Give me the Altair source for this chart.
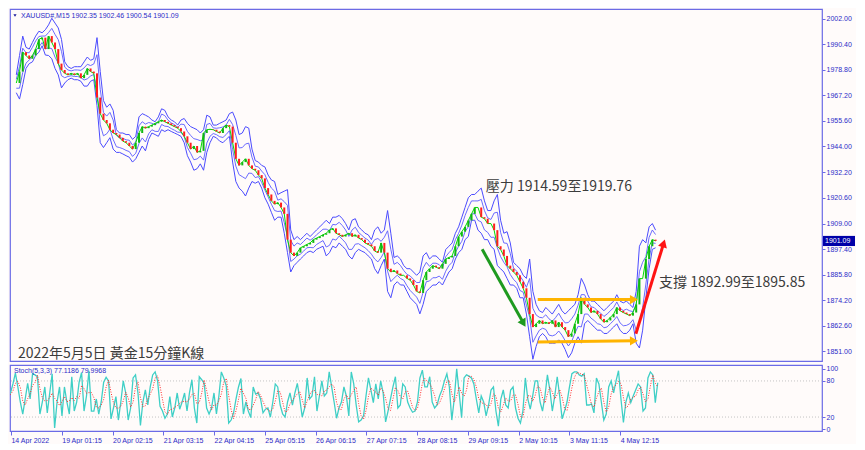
import math
import altair as alt
import pandas as pd

# ---------------- data ----------------
close = [
1972.8,1978.0,1986.8,1985.3,1983.8,1985.3,1988.2,1992.6,1993.4,1988.2,
1994.1,1991.2,1988.2,1981.6,1978.7,1977.2,1976.5,1977.2,1976.5,1977.2,
1975.0,1976.5,1979.4,1978.0,1977.2,1966.2,1958.9,1956.0,1954.5,1951.6,
1950.1,1949.4,1947.9,1946.4,1945.7,1944.2,1942.8,1945.7,1950.1,1953.0,
1952.3,1953.0,1953.7,1954.5,1955.2,1956.0,1955.2,1954.5,1953.7,1953.0,
1952.3,1950.8,1948.6,1945.7,1942.8,1944.2,1941.3,1942.0,1950.1,1951.6,
1951.8,1951.6,1950.8,1950.1,1952.3,1953.7,1953.0,1945.7,1938.4,1935.4,
1936.9,1938.4,1935.4,1933.9,1933.2,1931.0,1929.5,1925.1,1922.2,1919.3,
1917.8,1918.5,1916.3,1913.4,1901.7,1895.8,1894.3,1895.8,1898.0,1898.7,
1899.5,1900.2,1901.7,1902.4,1903.1,1903.9,1904.6,1906.1,1906.8,1904.6,
1903.9,1903.1,1903.9,1904.6,1903.1,1903.9,1902.4,1901.7,1900.2,1899.5,
1898.7,1896.5,1895.8,1900.2,1895.8,1888.5,1887.0,1887.7,1886.3,1885.5,
1885.5,1884.1,1883.3,1881.1,1878.2,1877.5,1883.3,1887.0,1888.5,1889.9,
1889.2,1888.5,1890.7,1892.9,1893.6,1894.3,1898.7,1903.1,1905.3,1907.5,
1910.4,1913.4,1916.3,1916.3,1911.9,1911.2,1909.0,1909.0,1906.0,1898.7,
1897.2,1894.3,1889.9,1888.5,1887.0,1885.5,1882.6,1879.6,1875.3,1867.9,
1862.0,1863.5,1865.0,1863.5,1864.2,1863.5,1865.0,1862.0,1864.2,1862.0,
1860.6,1857.6,1859.1,1863.5,1867.9,1875.3,1872.3,1870.9,1868.6,1869.4,
1867.9,1865.7,1864.2,1865.0,1866.4,1867.9,1870.9,1869.4,1868.6,1867.9,
1867.2,1868.6,1872.3,1884.0,1884.0,1892.9,1898.7,1901.7,1901.1]

upper = [
1976.5,1985.3,1994.1,1989.0,1988.2,1991.2,1994.1,1996.3,1995.6,1997.0,
1999.2,2002.2,2000.0,1997.8,1992.6,1982.4,1980.2,1979.4,1980.2,1980.2,
1980.2,1982.4,1984.6,1983.1,1983.8,1993.4,1978.0,1964.8,1961.8,1963.3,
1960.4,1951.6,1950.1,1950.1,1949.4,1949.4,1947.2,1948.6,1957.4,1958.9,
1958.2,1957.4,1956.0,1955.2,1957.4,1961.1,1960.4,1957.4,1956.0,1955.2,
1953.7,1956.0,1956.7,1954.5,1953.0,1952.3,1951.6,1950.1,1951.6,1958.2,
1957.4,1953.7,1953.7,1954.5,1955.2,1956.0,1958.9,1959.6,1956.0,1949.4,
1950.1,1953.0,1952.3,1942.8,1937.6,1936.9,1935.4,1934.7,1931.0,1928.8,
1928.1,1922.2,1923.0,1923.7,1924.4,1906.1,1901.7,1903.1,1901.7,1903.1,
1904.6,1903.1,1904.6,1906.1,1907.5,1909.0,1910.5,1909.0,1911.9,1911.9,
1912.7,1911.2,1909.0,1906.1,1910.5,1911.2,1907.5,1906.1,1904.6,1903.9,
1901.7,1906.1,1907.5,1904.6,1906.1,1914.9,1904.6,1893.6,1894.3,1892.9,
1889.9,1888.5,1888.5,1887.0,1885.5,1887.0,1894.3,1895.8,1892.9,1894.3,
1894.3,1892.9,1891.4,1897.2,1898.7,1900.2,1904.6,1907.5,1911.9,1916.3,
1920.7,1922.2,1922.2,1923.7,1925.1,1919.3,1914.9,1914.9,1919.3,1922.2,
1910.5,1904.6,1905.3,1900.2,1891.4,1889.9,1888.5,1885.5,1884.1,1892.9,
1878.2,1872.3,1869.4,1868.6,1870.9,1869.4,1867.9,1870.1,1872.3,1869.4,
1867.9,1869.4,1870.9,1872.3,1876.7,1884.1,1881.1,1876.7,1873.8,1873.8,
1872.3,1870.9,1869.4,1870.9,1872.3,1873.8,1876.7,1873.8,1873.0,1873.8,
1872.3,1870.9,1878.2,1898.7,1901.7,1900.2,1907.5,1909.0,1906.0]

lower = [
1968.4,1965.5,1972.1,1979.4,1981.6,1982.4,1985.3,1986.8,1989.7,1985.5,
1985.3,1983.8,1979.4,1976.5,1970.6,1972.8,1974.3,1975.0,1974.3,1974.3,
1973.6,1971.4,1971.4,1973.6,1974.3,1962.5,1945.7,1943.5,1945.7,1948.0,
1942.8,1941.3,1941.3,1940.6,1939.8,1939.1,1936.9,1938.4,1941.3,1944.2,
1942.0,1947.2,1950.1,1949.4,1948.6,1951.6,1950.8,1951.6,1950.8,1950.1,
1949.4,1948.6,1945.7,1939.8,1936.9,1933.2,1933.9,1936.1,1933.2,1941.3,
1945.7,1948.6,1947.9,1946.4,1945.7,1947.2,1948.6,1936.9,1928.1,1925.1,
1923.7,1921.5,1925.1,1928.1,1927.3,1928.1,1925.1,1920.7,1917.8,1914.1,
1910.5,1911.9,1911.9,1904.6,1895.8,1887.0,1889.9,1891.4,1892.9,1894.3,
1895.8,1896.5,1895.8,1897.3,1898.0,1898.7,1894.3,1895.8,1898.7,1898.0,
1900.2,1898.7,1897.3,1894.3,1892.9,1895.8,1897.3,1896.5,1895.8,1894.3,
1892.9,1888.5,1886.3,1889.9,1892.9,1878.2,1875.3,1881.1,1882.6,1881.1,
1881.1,1878.2,1875.3,1873.8,1872.3,1868.0,1872.3,1878.2,1879.6,1881.1,
1881.1,1882.6,1881.1,1884.1,1887.0,1888.5,1892.9,1895.8,1897.3,1901.7,
1903.1,1910.5,1910.5,1906.0,1904.6,1901.7,1901.7,1898.7,1897.3,1889.9,
1888.5,1887.0,1884.1,1881.1,1881.1,1879.6,1875.3,1875.3,1867.9,1857.6,
1847.4,1853.2,1857.6,1859.1,1857.6,1854.7,1854.7,1854.7,1856.2,1854.7,
1851.8,1848.1,1850.3,1854.7,1857.6,1854.7,1863.5,1865.0,1863.5,1862.0,
1860.6,1860.6,1859.1,1859.1,1860.6,1862.0,1863.5,1860.6,1859.1,1859.1,
1860.6,1863.5,1854.7,1852.5,1860.6,1875.3,1888.5,1897.3,1898.0]

stoch_k = [
55,60,75,93,70,45,25,50,76,50, 92,90,87,25,45,70,27,60,92,2,
45,70,22,70,45,25,87,30,45,78, 94,30,55,97,30,30,50,25,45,78,
86,80,17,35,54,15,45,80,60,15, 35,85,90,60,6,45,65,40,70,90,
95,80,38,30,18,25,54,20,35,60, 33,45,60,30,60,82,35,10,87,82,
76,35,25,35,60,25,55,95,85,72, 10,15,27,50,70,84,25,45,30,19,
70,58,60,50,27,33,35,20,45,75, 70,40,25,20,45,60,40,60,76,50,
20,35,85,50,55,87,30,55,80,55, 60,95,70,45,18,35,45,70,55,22,
95,75,40,12,15,22,55,85,65,44, 75,50,80,60,12,30,50,70,87,35,
40,75,70,45,35,28,30,45,85,98, 70,70,87,45,35,40,55,65,
80,92,70,15,50,100,60,19,85,90, 88,85,75,50,27,55,45,22,40,65,
70,30,5,50,65,40,35,65,70,35, 18,10,30,85,50,33,55,80,80,45,
30,55,90,65,30,55,87,55,17,30, 45,70,92,95,95,90,88,92,40,40,
42,27,85,75,45,15,25,70,80,60, 80,97,50,11,45,60,44,55,65,75,
70,30,35,85,95,90,44,77]

price_ticks = [1851.0, 1862.6, 1874.2, 1885.8, 1897.4, 1909.0, 1920.6,
               1932.2, 1944.0, 1955.6, 1967.2, 1978.8, 1990.4, 2002.0]
time_labels = ["14 Apr 2022", "19 Apr 01:15", "20 Apr 02:15", "21 Apr 03:15",
               "22 Apr 04:15", "25 Apr 05:15", "26 Apr 06:15", "27 Apr 07:15",
               "28 Apr 08:15", "29 Apr 09:15", "2 May 10:15", "3 May 11:15",
               "4 May 12:15"]
last_price = 1901.09

# arrows (start / end in bar index and price)
arrow_x0 = [145.3, 162.5, 162.5, 192.9]
arrow_y0 = [1897.3, 1874.5, 1855.2, 1859.0]
arrow_x1 = [158.1, 192.3, 192.3, 201.5]
arrow_y1 = [1863.7, 1874.5, 1855.8, 1900.0]
arrow_col = ["#1f9a1f", "#ffb400", "#ffb400", "#ff1414"]

# ---------------- layout ----------------
W, H, HS = 812, 352, 66
T0, T1 = 0.6, 249.0
P0, P1 = 1846.6, 2006.4
S0, S1 = -3.2, 106.5
BLUE_TXT = "#2b2bc8"
FRAME = "#6b6be6"
AX_FONT = "Liberation Sans"
CJK = "Noto Sans CJK TC"

xs = alt.Scale(domain=[T0, T1], nice=False, zero=False)
ys = alt.Scale(domain=[P0, P1], nice=False, zero=False)
ss = alt.Scale(domain=[S0, S1], nice=False, zero=False)

yax = alt.Axis(orient="right", values=price_ticks, format=".2f", title=None,
               labelFont=AX_FONT, labelFontSize=7, labelColor=BLUE_TXT,
               tickColor=FRAME, tickSize=3, domain=False, grid=False,
               labelPadding=1)

df = pd.DataFrame({"t": list(range(1, len(close) + 1)), "close": close,
                   "upper": upper, "lower": lower})
df["open"] = [close[0]] + close[:-1]
df["mid"] = (df["upper"] + df["lower"]) / 2
df["iu"] = df["mid"] + (df["upper"] - df["lower"]) / 4
df["il"] = df["mid"] - (df["upper"] - df["lower"]) / 4

X = alt.X("t:Q", scale=xs, axis=None)
base = alt.Chart(df)

def band(field, color, w):
    return base.mark_line(color=color, strokeWidth=w, clip=True).encode(
        X, alt.Y(f"{field}:Q", scale=ys, axis=yax))

outer_u = band("upper", "#4b4bff", 1)
outer_l = band("lower", "#4b4bff", 1)
inner_u = band("iu", "#5a5aff", 0.9)
inner_l = band("il", "#5a5aff", 0.9)
ma = band("close", "#00dd00", 1)
candles = base.mark_bar(size=2, clip=True).encode(
    X, alt.Y("open:Q", scale=ys, axis=yax), y2="close:Q",
    color=alt.condition("datum.close >= datum.open",
                        alt.value("#10b810"), alt.value("#ff1e1e")))

# arrows
sx = W / (T1 - T0)
sy = H / (P1 - P0)
angles = []
for a, b, c, d in zip(arrow_x0, arrow_y0, arrow_x1, arrow_y1):
    dx = (c - a) * sx
    dy = -(d - b) * sy
    angles.append((math.degrees(math.atan2(dx, -dy)) + 360) % 360)
adf = pd.DataFrame({"x0": arrow_x0, "y0": arrow_y0, "x1": arrow_x1,
                    "y1": arrow_y1, "c": arrow_col, "a": angles})
shafts = alt.Chart(adf).mark_rule(strokeWidth=3).encode(
    x=alt.X("x0:Q", scale=xs, axis=None), y=alt.Y("y0:Q", scale=ys, axis=yax),
    x2="x1:Q", y2="y1:Q", color=alt.Color("c:N", scale=None))
heads = alt.Chart(adf).mark_point(shape="triangle-up", filled=True, opacity=1,
                                  size=85).encode(
    x=alt.X("x1:Q", scale=xs, axis=None), y=alt.Y("y1:Q", scale=ys, axis=yax),
    color=alt.Color("c:N", scale=None), angle=alt.Angle("a:Q", scale=None))

# annotations in data space
ann = pd.DataFrame({
    "t": [146.4, 200.1, 1.5],
    "p": [1925.4, 1881.8, 1849.9],
    "txt": ["壓力 1914.59至1919.76", "支撐 1892.99至1895.85",
            "2022年5月5日 黃金15分鐘K線"],
})
ann_text = alt.Chart(ann).mark_text(align="left", baseline="middle", font=CJK,
                                    fontSize=14, color="#3c3c3c").encode(
    x=alt.X("t:Q", scale=xs, axis=None), y=alt.Y("p:Q", scale=ys, axis=yax),
    text="txt:N")

hdr = pd.DataFrame({"txt": ["XAUUSD#,M15  1902.35 1902.46 1900.54 1901.09"]})
header = alt.Chart(hdr).mark_text(align="left", baseline="middle", font=AX_FONT,
                                  fontSize=7, color=BLUE_TXT).encode(
    x=alt.value(11), y=alt.value(7), text="txt:N")
tri = alt.Chart(hdr).mark_point(shape="triangle-down", filled=True, opacity=1,
                                size=10, color="#1a1a9a").encode(
    x=alt.value(5), y=alt.value(6.5))

# current price box on the right axis
pbox = pd.DataFrame({"lo": [last_price - 2.3], "hi": [last_price + 2.3],
                     "p": [last_price], "txt": [f"{last_price:.2f}"]})
box = alt.Chart(pbox).mark_rect(color="#0000a8").encode(
    x=alt.value(W + 1), x2=alt.value(W + 33),
    y=alt.Y("lo:Q", scale=ys, axis=yax), y2="hi:Q")
box_txt = alt.Chart(pbox).mark_text(align="left", baseline="middle",
                                    font=AX_FONT, fontSize=7,
                                    color="white").encode(
    x=alt.value(W + 3), y=alt.Y("p:Q", scale=ys, axis=yax), text="txt:N")

main = alt.layer(outer_u, outer_l, inner_u, inner_l, ma, candles, shafts,
                 heads, ann_text, header, tri, box, box_txt).properties(
    width=W, height=H)

# ---------------- stochastic panel ----------------
sdf = pd.DataFrame({"t": [i * 0.75 for i in range(len(stoch_k))],
                    "k": stoch_k})
sdf["d"] = sdf["k"].rolling(3, min_periods=1).mean()

tick_pos = [0.9 + 15.53 * j for j in range(len(time_labels))]
lbl_arr = "[" + ",".join("'" + s + "'" for s in time_labels) + "]"
xax = alt.Axis(values=tick_pos, title=None, grid=False, domain=False,
               labelExpr=f"{lbl_arr}[round((datum.value-0.9)/15.53)]",
               labelAlign="left", labelFont=AX_FONT, labelFontSize=7,
               labelColor=BLUE_TXT, tickColor=FRAME, tickSize=4,
               labelPadding=1, labelOverlap=False, labelFlush=False,
               labelBound=False)
sax = alt.Axis(orient="right", values=[0, 20, 80, 100], title=None,
               labelFont=AX_FONT, labelFontSize=7, labelColor=BLUE_TXT,
               tickColor=FRAME, tickSize=3, domain=False, grid=False,
               labelPadding=1)

lv = pd.DataFrame({"lv": [20, 80]})
levels = alt.Chart(lv).mark_rule(color="#c4c4c4", strokeDash=[1, 2]).encode(
    y=alt.Y("lv:Q", scale=ss, axis=sax))
kline = alt.Chart(sdf).mark_line(color="#3fcfc6", strokeWidth=1.3,
                                 clip=True).encode(
    x=alt.X("t:Q", scale=xs, axis=xax), y=alt.Y("k:Q", scale=ss, axis=sax))
dline = alt.Chart(sdf).mark_line(color="#ff2a2a", strokeWidth=1,
                                 strokeDash=[1, 1.5], clip=True).encode(
    x=alt.X("t:Q", scale=xs, axis=xax), y=alt.Y("d:Q", scale=ss, axis=sax))
slabel = alt.Chart(pd.DataFrame({"txt": ["Stoch(5,3,3) 77.1186 79.9968"]})
                   ).mark_text(align="left", baseline="middle", font=AX_FONT,
                               fontSize=7, color=BLUE_TXT).encode(
    x=alt.value(4), y=alt.value(6), text="txt:N")

stoch = alt.layer(levels, kline, dline, slabel).properties(width=W, height=HS)

chart = alt.vconcat(main, stoch, spacing=2).properties(
    background="#fffbfa",
    padding={"left": 0, "top": 0, "right": 0, "bottom": 0},
).configure_view(stroke=FRAME, strokeWidth=1.2)

chart.save("out.html", embed_options={"renderer": "svg", "actions": False})
